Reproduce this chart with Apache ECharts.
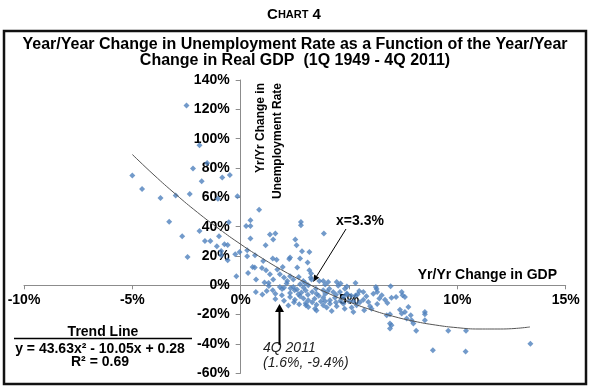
<!DOCTYPE html>
<html>
<head>
<meta charset="utf-8">
<script src="https://cdn.jsdelivr.net/npm/echarts@6/dist/echarts.min.js"></script>
<style>
html,body{margin:0;padding:0;background:#fff;}
#c{width:592px;height:389px;}
</style>
</head>
<body>
<div id="c"></div>
<script>
// Year/Year change in real GDP (%) for each quarter
var gdpChange = [
-2.5,-1.9,-1.55,-2.2,-5.0,-1.8,-0.85,-0.5,-4.55,-3.7,-3.0,-2.35,-1.05,-0.15,-3.3,-0.55,-1.9,-2.7,-1.0,-1.65,
-1.4,-1.1,-0.75,-0.6,-0.9,-2.45,-0.9,-0.6,-0.25,-0.05,-0.2,
0.25,0.45,0.45,0.85,0.45,1.35,1.6,1.5,2.52,2.78,2.78,3.84,1.15,2.58,2.83,3.17,0.3,0.3,0.66,
1.04,1.48,1.66,2.24,2.28,2.74,3.09,0.55,0.65,0.98,1.17,1.69,1.94,2.61,3.17,3.25,0.34,1.35,1.81,2.0,
0.71,1.5,2.28,2.43,2.68,2.89,3.23,1.29,2.12,2.15,2.74,2.98,3.12,3.27,3.63,3.81,4.04,4.43,4.61,5.3,
1.81,2.0,1.91,2.43,2.49,1.2,1.48,1.6,1.6,2.28,2.28,2.66,2.74,2.46,3.12,3.01,3.12,3.43,3.47,3.81,
4.09,4.27,4.58,4.81,5.47,5.66,6.12,6.51,6.66,7.17,3.41,3.81,4.12,4.35,4.74,5.66,5.89,3.5,3.81,3.97,
4.12,4.43,4.74,5.12,5.2,5.35,5.97,6.04,6.74,6.89,6.89,6.89,6.24,6.27,6.92,6.3,7.43,7.47,7.58,6.96,
6.77,7.35,7.74,7.58,7.43,7.85,7.66,7.89,7.97,8.5,8.5,8.5,6.96,8.1,9.58,10.4,8.87,10.38,13.37,
2.3,2.6,2.9,3.0,3.3,3.5,2.8,3.1,3.6,2.5,2.9,3.3,3.7,3.0,2.7,3.5,2.2,3.9,4.0,4.4,
4.6,4.9,5.0,5.3,5.5,4.2,4.8,5.7,6.3,6.4,5.8,4.5,3.9,4.9,1.0,0.7,1.9,2.0,1.3,1.1,
4.9,5.1,5.4,5.2,4.4,3.9
];
// Year/Year change in unemployment rate (%) for the same quarters
var unempChange = [
122.6,95.5,83.4,79.6,74.8,70.9,73.5,75.2,65.7,59.6,61.2,62.3,59.1,60.7,43.4,43.0,37.0,33.4,33.4,30.2,
30.2,26.6,28.0,27.5,23.4,19.3,20.5,17.1,21.1,22.7,6.1,
40.5,40.5,44.3,51.6,31.9,34.6,35.3,31.2,31.2,43.2,40.9,35.3,27.3,27.3,23.2,22.7,23.9,19.8,20.5,
16.6,18.2,17.5,17.9,18.9,18.2,15.5,12.5,12.1,11.8,10.2,10.7,12.5,12.1,10.2,8.0,8.4,7.5,7.5,5.3,
3.9,3.9,6.1,3.9,5.7,2.9,5.3,1.6,1.2,2.9,0.7,1.6,0.0,3.9,2.9,2.9,2.3,2.3,1.2,1.6,
-1.1,-1.6,-2.5,-1.1,-3.4,-3.9,-3.4,-5.7,-9.4,-8.0,-5.3,-6.1,-7.5,-11.6,-10.2,-13.6,-14.8,-15.9,-2.3,-3.4,
-2.3,-4.6,-4.6,-2.3,-3.9,-4.6,-5.7,-6.8,-9.8,-8.0,-9.1,-8.4,-10.2,-8.4,-8.0,-9.8,-11.4,-17.2,-13.6,-15.2,
-12.5,-14.3,-12.5,-15.2,-18.2,-13.6,-14.3,-15.9,-20.5,-19.8,-26.1,-29.5,-1.1,-2.5,-0.7,-4.6,-4.6,-6.8,-8.0,-8.4,
-12.1,-16.6,-14.8,-18.2,-19.3,-20.5,-22.7,-23.9,-26.1,-18.2,-19.8,-23.9,-27.3,-31.0,-31.0,-31.0,-44.3,-45.1,-39.8,
-2.0,-2.8,-1.5,-3.6,-4.5,-5.8,-4.9,-6.5,-7.2,-9.8,-9.0,-11.5,-11.0,-12.3,-13.0,-13.2,-13.8,-6.0,-4.2,-6.4,
-10.5,-6.3,-10.8,-7.0,-11.6,-17.5,-16.0,-17.0,-12.7,-9.0,-7.4,-0.3,0.5,-0.8,-6.2,-4.5,-6.8,-10.5,-0.5,2.0,
-5.5,-7.2,-6.1,-11.0,-11.8,-10.9
];
// Trend line (x = GDP change %, y = unemployment change %)
var trendX = [-5, -4, -3, -2, -1, 0, 1, 2, 3, 4, 5, 6, 7, 8, 9, 10, 11, 12, 13.35];
var trendY = [89.2, 75.2, 62.1, 49.8, 38.5, 28.0, 18.4, 9.6, 1.8, -5.2, -11.3, -16.6, -21.0, -24.5, -27.1, -28.9, -29.8, -29.8, -28.4];
// Axis ticks
var xTicks = {min: -10, max: 15, step: 5};
var yTicks = {min: -60, max: 140, step: 20};

var pts = gdpChange.map(function (x, i) { return [x, unempChange[i]]; });
var trend = trendX.map(function (x, i) { return [x, trendY[i]]; });

var W = 592, H = 389;
var G = {left: 24, right: 26.3, top: 80, bottom: 15.7};
var gw = W - G.left - G.right, gh = H - G.top - G.bottom;
// offsets so that each axis sits where the other axis is zero
var xAxisOffset = -gh * (0 - yTicks.min) / (yTicks.max - yTicks.min);
var yAxisOffset = -gw * (0 - xTicks.min) / (xTicks.max - xTicks.min);

var chart = echarts.init(document.getElementById('c'), null, {renderer: 'canvas'});
var F = 'Liberation Sans, Arial, sans-serif';
var axisCol = '#8c8c8c';
chart.setOption({
  animation: false,
  backgroundColor: '#fff',
  textStyle: {fontFamily: F},
  grid: {left: G.left, right: G.right, top: G.top, bottom: G.bottom, containLabel: false, outerBoundsMode: 'none'},
  xAxis: {
    type: 'value', min: xTicks.min, max: xTicks.max, interval: xTicks.step,
    position: 'bottom', offset: xAxisOffset,
    axisLine: {show: true, onZero: false, lineStyle: {color: axisCol, width: 1}},
    axisTick: {show: true, length: 4, lineStyle: {color: axisCol}},
    splitLine: {show: false},
    axisLabel: {formatter: '{value}%', color: '#000', fontWeight: 'bold', fontSize: 14, margin: 8, fontFamily: F}
  },
  yAxis: {
    type: 'value', min: yTicks.min, max: yTicks.max, interval: yTicks.step,
    position: 'left', offset: yAxisOffset,
    axisLine: {show: true, onZero: false, lineStyle: {color: axisCol, width: 1}},
    axisTick: {show: true, length: 5, lineStyle: {color: axisCol}},
    splitLine: {show: false},
    axisLabel: {formatter: '{value}%', color: '#000', fontWeight: 'bold', fontSize: 14, margin: 11, fontFamily: F}
  },
  series: [
    {
      type: 'line', data: trend, smooth: true, showSymbol: false, silent: true,
      lineStyle: {color: '#555', width: 1}, z: 3
    },
    {
      type: 'scatter', data: pts, symbol: 'diamond', symbolSize: 6,
      itemStyle: {color: '#4F81BD'}, z: 2
    }
  ],
  graphic: [
    {type: 'rect', shape: {x: 4, y: 31, width: 582, height: 353}, style: {fill: null, stroke: '#111', lineWidth: 2.5}, z: 10},
    {type: 'text', x: 294, y: 15, style: {text: '{a|C}{b|HART}{a| 4}', rich: {a: {fontSize: 15, fontWeight: 'bold', fontFamily: F, fill: '#000'}, b: {fontSize: 11, fontWeight: 'bold', fontFamily: F, fill: '#000'}}, align: 'center', verticalAlign: 'middle'}},
    {type: 'text', x: 295, y: 45, style: {text: 'Year/Year Change in Unemployment Rate as a Function of the Year/Year', font: 'bold 16px ' + F, fill: '#000', align: 'center', verticalAlign: 'middle'}},
    {type: 'text', x: 295, y: 61, style: {text: 'Change in Real GDP  (1Q 1949 - 4Q 2011)', font: 'bold 16px ' + F, fill: '#000', align: 'center', verticalAlign: 'middle'}},
    {type: 'text', x: 261, y: 83, rotation: Math.PI / 2, style: {text: 'Yr/Yr Change in', font: 'bold 12px ' + F, fill: '#000', align: 'right', verticalAlign: 'middle'}},
    {type: 'text', x: 278, y: 83, rotation: Math.PI / 2, style: {text: 'Unemployment Rate', font: 'bold 12px ' + F, fill: '#000', align: 'right', verticalAlign: 'middle'}},
    {type: 'text', x: 557, y: 275, style: {text: 'Yr/Yr Change in GDP', font: 'bold 14px ' + F, fill: '#000', align: 'right', verticalAlign: 'middle'}},
    {type: 'text', x: 336, y: 221, style: {text: 'x=3.3%', font: 'bold 14px ' + F, fill: '#000', align: 'left', verticalAlign: 'middle'}},
    {type: 'line', shape: {x1: 346, y1: 229, x2: 316.7, y2: 276.1}, style: {stroke: '#000', lineWidth: 1}},
    {type: 'polygon', shape: {points: [[313, 282], [319.2, 277.7], [314.2, 274.5]]}, style: {fill: '#000'}},
    {type: 'text', x: 263, y: 348, style: {text: '4Q 2011', font: 'italic 14px ' + F, fill: '#222', align: 'left', verticalAlign: 'middle'}},
    {type: 'text', x: 263, y: 363, style: {text: '(1.6%, -9.4%)', font: 'italic 14px ' + F, fill: '#222', align: 'left', verticalAlign: 'middle'}},
    {type: 'line', shape: {x1: 279.5, y1: 311, x2: 279.5, y2: 345}, style: {stroke: '#000', lineWidth: 2}},
    {type: 'polygon', shape: {points: [[279.5, 304], [275, 312], [284, 312]]}, style: {fill: '#000'}},
    {type: 'text', x: 103, y: 332, style: {text: 'Trend Line', font: 'bold 14px ' + F, fill: '#000', align: 'center', verticalAlign: 'middle'}},
    {type: 'line', shape: {x1: 14, y1: 338.5, x2: 192, y2: 338.5}, style: {stroke: '#000', lineWidth: 1.3}},
    {type: 'text', x: 100, y: 349, style: {text: 'y = 43.63x\u00B2 - 10.05x + 0.28', font: 'bold 14px ' + F, fill: '#000', align: 'center', verticalAlign: 'middle'}},
    {type: 'text', x: 100, y: 362, style: {text: 'R\u00B2 = 0.69', font: 'bold 14px ' + F, fill: '#000', align: 'center', verticalAlign: 'middle'}}
  ]
});
</script>
</body>
</html>
